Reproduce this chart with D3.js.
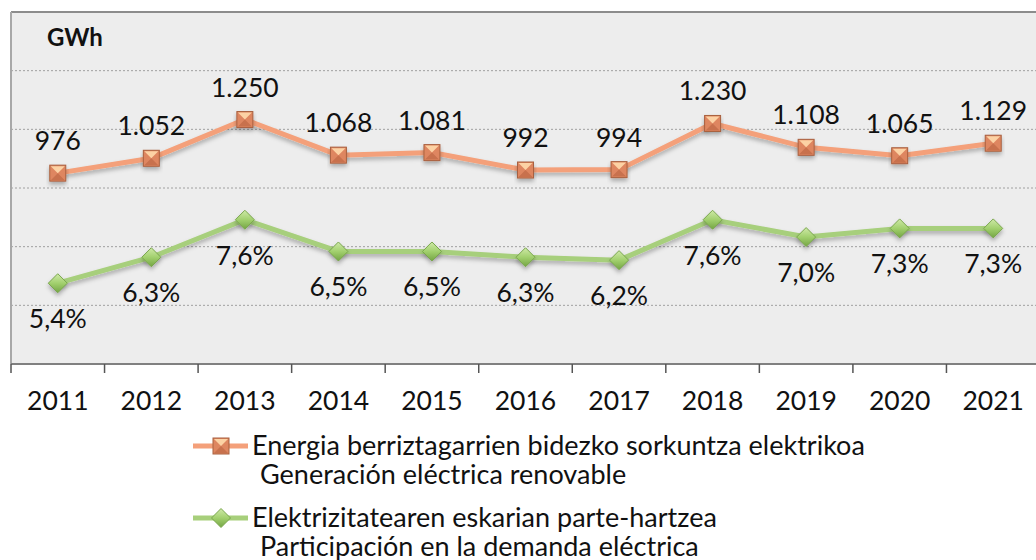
<!DOCTYPE html>
<html>
<head>
<meta charset="utf-8">
<script src="https://cdn.jsdelivr.net/npm/d3@7"></script>
<style>
  body { margin: 0; background: #fff; }
  svg { display: block; font-family: Lato, "Open Sans", sans-serif; }
</style>
</head>
<body>
<svg id="chart" width="1036" height="560"></svg>
<script>
// chart data
const years = ["2011", "2012", "2013", "2014", "2015", "2016", "2017", "2018", "2019", "2020", "2021"];
const generation = [976, 1052, 1250, 1068, 1081, 992, 994, 1230, 1108, 1065, 1129]; // GWh
const share = [5.4, 6.3, 7.6, 6.5, 6.5, 6.3, 6.2, 7.6, 7.0, 7.3, 7.3]; // %
const gwhTicks = [0, 300, 600, 900, 1200, 1500, 1800];
const legendLabels = [
    ["Energia berriztagarrien bidezko sorkuntza elektrikoa", "Generación eléctrica renovable"],
    ["Elektrizitatearen eskarian parte-hartzea", "Participación en la demanda eléctrica"]
];

const svg = d3.select("#chart");
const plot = {left: 11, top: 12, bottom: 364, right: 1040};

const esLocale = d3.formatLocale({decimal: ",", thousands: ".", grouping: [3], currency: ["", "€"]});
const fmtGwh = esLocale.format(",d");
const fmtPct = v => esLocale.format(".1f")(v) + "%";

const orange = "#f4a07a";
const green = "#a7cf7b";

var x = d3.scaleBand()
    .domain(years)
    .range([plot.left, plot.right]);

var y = d3.scaleLinear()
    .domain([0, 1800])
    .range([plot.bottom, plot.top]);

// secondary axis (hidden)
var y2 = d3.scaleLinear()
    .domain([2.6, 14.8])
    .range([plot.bottom, plot.top]);

const cx = d => x(d) + x.bandwidth() / 2;

// defs: gradients + shadow
const defs = svg.append("defs");
const shadow = defs.append("filter").attr("id", "shadow")
    .attr("x", "-20%").attr("y", "-50%").attr("width", "140%").attr("height", "220%");
shadow.append("feDropShadow")
    .attr("dx", 0).attr("dy", 3).attr("stdDeviation", 2)
    .attr("flood-color", "#000").attr("flood-opacity", 0.28);

const gGrad = defs.append("linearGradient").attr("id", "greenGrad")
    .attr("x1", 0).attr("y1", 0).attr("x2", 0).attr("y2", 1);
gGrad.append("stop").attr("offset", "0%").attr("stop-color", "#cfe9a8");
gGrad.append("stop").attr("offset", "50%").attr("stop-color", "#a2d06e");
gGrad.append("stop").attr("offset", "100%").attr("stop-color", "#74a544");

// plot area
svg.append("rect")
    .attr("x", plot.left).attr("y", plot.top)
    .attr("width", plot.right - plot.left).attr("height", plot.bottom - plot.top)
    .attr("fill", "#ededed");

// gridlines
svg.append("g")
    .selectAll("line")
    .data(gwhTicks.filter(t => t > 0 && t < 1800))
    .enter().append("line")
    .attr("x1", plot.left).attr("x2", plot.right)
    .attr("y1", d => y(d)).attr("y2", d => y(d))
    .attr("stroke", "#a0a0a0")
    .attr("stroke-width", 1)
    .attr("stroke-dasharray", "2,2");

// border top + left
svg.append("line")
    .attr("x1", plot.left).attr("x2", plot.right)
    .attr("y1", plot.top).attr("y2", plot.top)
    .attr("stroke", "#8c8c8c").attr("stroke-width", 2);
svg.append("line")
    .attr("x1", plot.left).attr("x2", plot.left)
    .attr("y1", plot.top).attr("y2", plot.bottom)
    .attr("stroke", "#a8a8a8").attr("stroke-width", 2);

// x axis
const xAxis = svg.append("g")
    .attr("transform", `translate(0, ${plot.bottom})`);
xAxis.append("line")
    .attr("x1", plot.left).attr("x2", plot.right)
    .attr("stroke", "#808080").attr("stroke-width", 2);
xAxis.selectAll(".tick")
    .data(years.concat(["end"]))
    .enter().append("line")
    .attr("x1", (d, i) => plot.left + i * x.step())
    .attr("x2", (d, i) => plot.left + i * x.step())
    .attr("y1", 0).attr("y2", 9)
    .attr("stroke", "#555").attr("stroke-width", 1.5);
xAxis.selectAll(".lbl")
    .data(years)
    .enter().append("text")
    .attr("x", d => cx(d))
    .attr("y", 46)
    .attr("text-anchor", "middle")
    .attr("font-size", 26.5)
    .attr("fill", "#111")
    .text(d => d);

// unit label
svg.append("text")
    .attr("x", 47).attr("y", 46)
    .attr("font-size", 24).attr("font-weight", "bold")
    .attr("fill", "#111")
    .text("GWh");

// markers
function squareMarker(g, size) {
    const h = size / 2;
    g.append("rect")
        .attr("x", -h).attr("y", -h).attr("width", size).attr("height", size)
        .attr("fill", "#de8660").attr("stroke", "#a9603f").attr("stroke-width", 1);
    g.append("path")
        .attr("d", `M${-h + 1},${-h + 1}L${h - 1},${-h + 1}L0,0Z`)
        .attr("fill", "#fcd2a4");
    g.append("path")
        .attr("d", `M${-h + 1},${h - 1}L${h - 1},${h - 1}L0,0Z`)
        .attr("fill", "#c8714d");
}
function diamondMarker(g, size) {
    const h = size / 2;
    g.append("path")
        .attr("d", `M0,${-h}L${h},0L0,${h}L${-h},0Z`)
        .attr("fill", "url(#greenGrad)").attr("stroke", "#79a64c").attr("stroke-width", 1);
}

// orange series
const gen = years.map((d, i) => ({year: d, v: generation[i]}));
svg.append("path")
    .datum(gen)
    .attr("fill", "none")
    .attr("stroke", orange)
    .attr("stroke-width", 5)
    .attr("filter", "url(#shadow)")
    .attr("d", d3.line().x(d => cx(d.year)).y(d => y(d.v)));
svg.selectAll(".genMarker")
    .data(gen)
    .enter().append("g")
    .attr("class", "genMarker")
    .attr("filter", "url(#shadow)")
    .attr("transform", d => `translate(${cx(d.year)}, ${y(d.v)})`)
    .each(function() { squareMarker(d3.select(this), 16); });
svg.selectAll(".genLabel")
    .data(gen)
    .enter().append("text")
    .attr("x", d => cx(d.year))
    .attr("y", d => y(d.v) - 23)
    .attr("text-anchor", "middle")
    .attr("font-size", 26.5)
    .attr("fill", "#111")
    .text(d => fmtGwh(d.v));

// green series
const sh = years.map((d, i) => ({year: d, v: share[i]}));
svg.append("path")
    .datum(sh)
    .attr("fill", "none")
    .attr("stroke", green)
    .attr("stroke-width", 5)
    .attr("filter", "url(#shadow)")
    .attr("d", d3.line().x(d => cx(d.year)).y(d => y2(d.v)));
svg.selectAll(".shMarker")
    .data(sh)
    .enter().append("g")
    .attr("class", "shMarker")
    .attr("filter", "url(#shadow)")
    .attr("transform", d => `translate(${cx(d.year)}, ${y2(d.v)})`)
    .each(function() { diamondMarker(d3.select(this), 19); });
svg.selectAll(".shLabel")
    .data(sh)
    .enter().append("text")
    .attr("x", d => cx(d.year))
    .attr("y", d => y2(d.v) + 45)
    .attr("text-anchor", "middle")
    .attr("font-size", 26.5)
    .attr("fill", "#111")
    .text(d => fmtPct(d.v));

// legend
const legend = svg.append("g");
const legendRows = [
    {color: orange, marker: squareMarker, size: 16, y: 446},
    {color: green, marker: diamondMarker, size: 19, y: 518}
];
legendRows.forEach((r, i) => {
    const g = legend.append("g").attr("transform", `translate(0, ${r.y})`);
    g.append("line")
        .attr("x1", 193).attr("x2", 248)
        .attr("stroke", r.color).attr("stroke-width", 5);
    const m = g.append("g").attr("transform", "translate(221, 0)");
    r.marker(m, r.size);
    g.append("text")
        .attr("x", 252).attr("y", 9)
        .attr("font-size", 27).attr("fill", "#111")
        .text(legendLabels[i][0]);
    g.append("text")
        .attr("x", 260).attr("y", 38)
        .attr("font-size", 27).attr("fill", "#111")
        .text(legendLabels[i][1]);
});
</script>
</body>
</html>
